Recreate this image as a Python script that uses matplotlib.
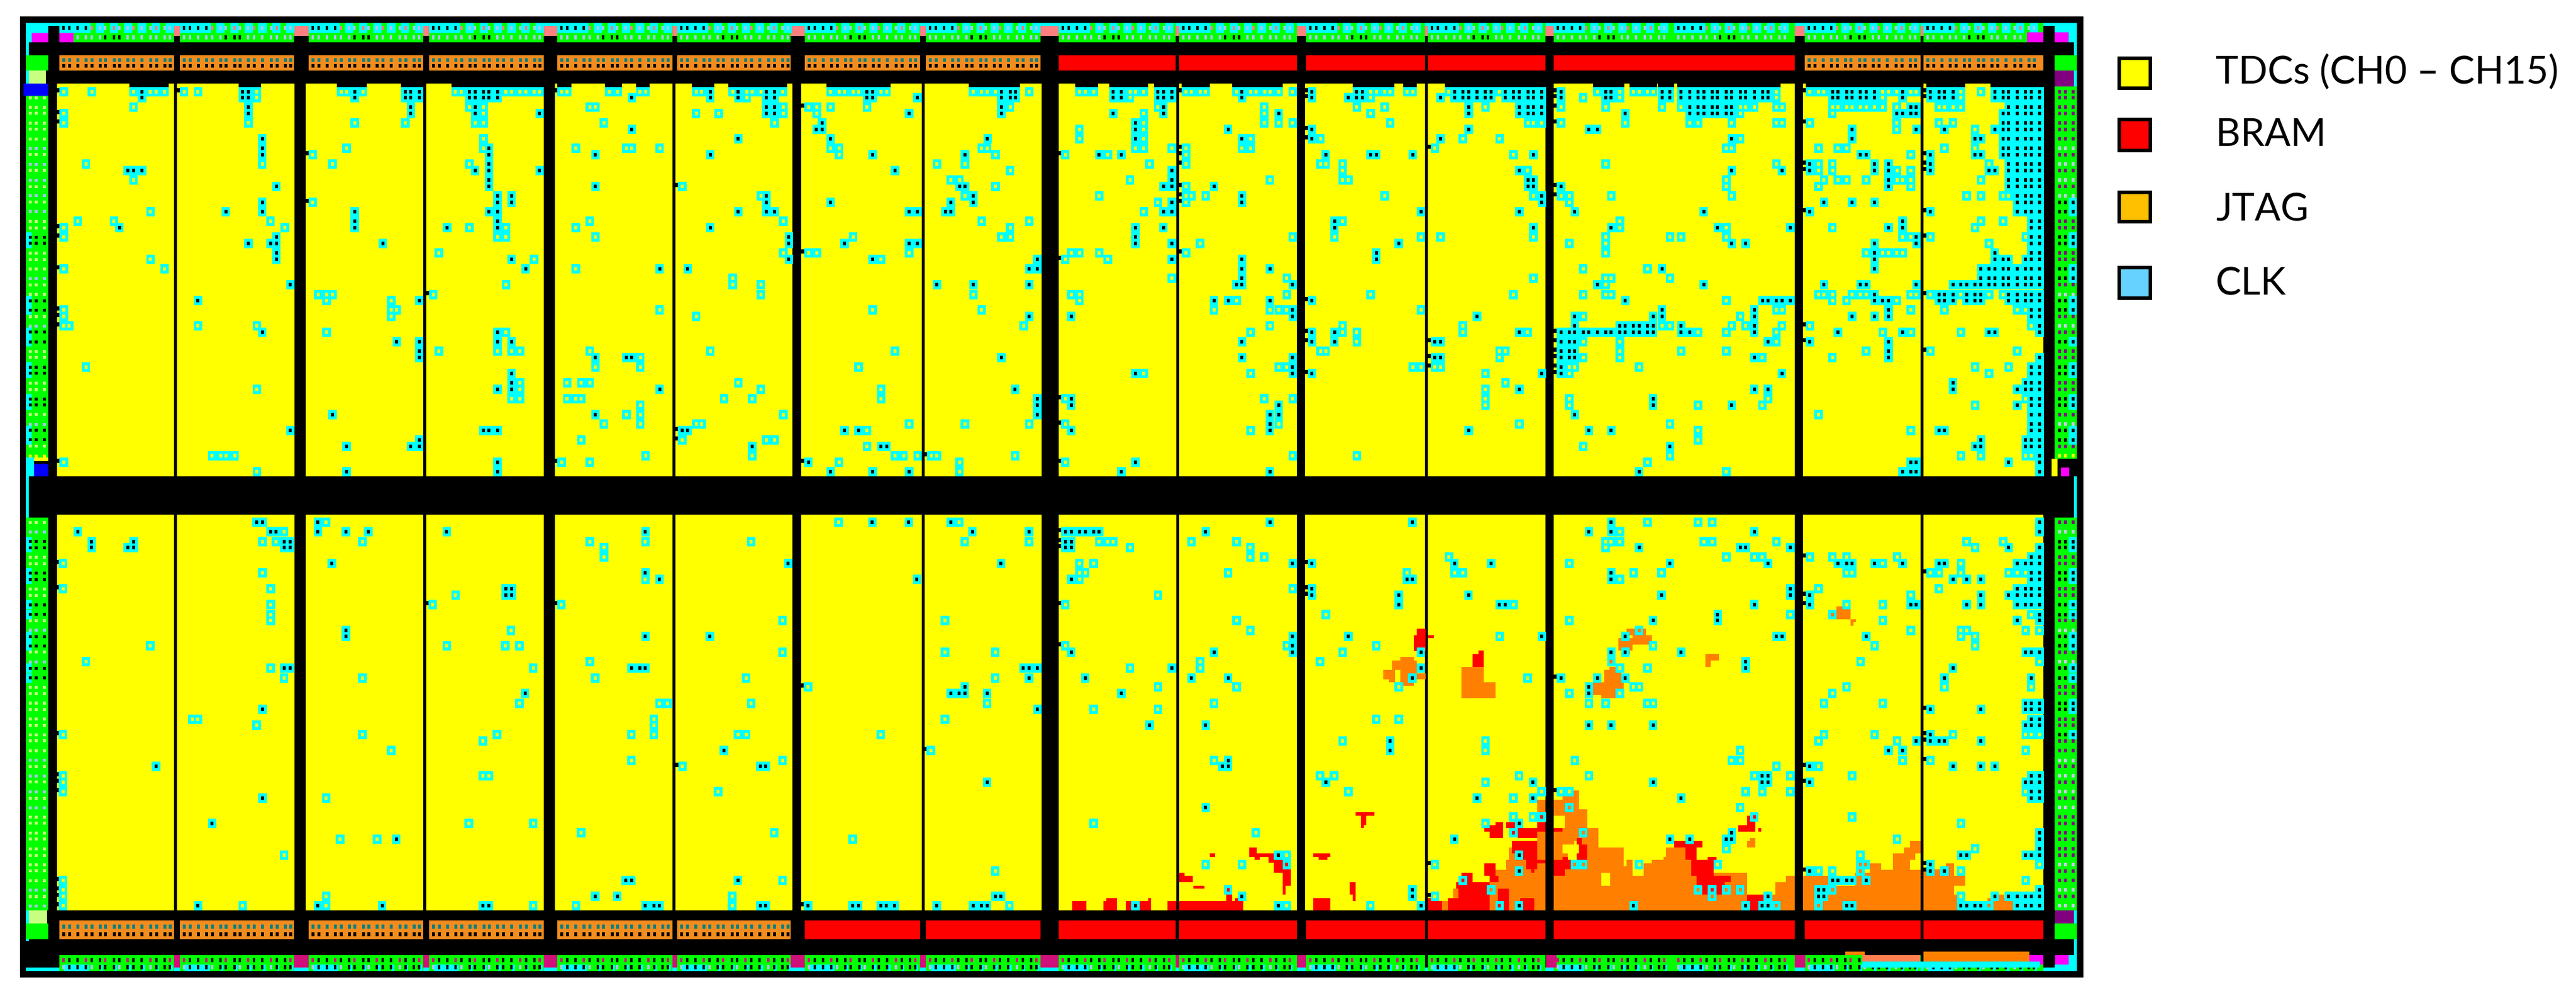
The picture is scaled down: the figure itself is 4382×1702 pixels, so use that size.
#!/usr/bin/env python3
import matplotlib
matplotlib.use("Agg")
import matplotlib.pyplot as plt

W, H = 4382, 1702

# ---------- fabric layout in image pixels ----------
PANELS = [(97, 296), (301, 501), (520, 720), (725, 925), (944, 1144), (1149, 1348),
          (1363, 1568), (1573, 1772), (1801, 2001), (2006, 2206), (2220, 2424),
          (2429, 2629), (2643, 3053), (3067, 3267), (3272, 3476)]
BLOCKS = [(101, 296), (306, 500), (525, 720), (730, 925), (948, 1144), (1152, 1345),
          (1369, 1565), (1575, 1770), (1801, 2000), (2006, 2206), (2222, 2424),
          (2429, 2629), (2643, 2848), (2848, 3053), (3070, 3267), (3272, 3476)]
TOP_BANK_KIND = "oooooooorrrrrroo"
BOT_BANK_KIND = "oooooorrrrrrrrrr"
DOT_OFFS = [7, 17, 31, 45, 55, 69, 78, 93, 102, 116, 126, 140, 155, 165, 179, 188]
CYAN_OFFS = [(0, 53), (62, 76), (86, 100), (110, 124), (133, 148), (157, 171), (181, 195)]

# rows of the fabric, as read in the crops
UPPER_Y = [58, 82, 119, 143, 180, 204, 241, 278, 302, 339, 363, 400, 425, 461, 486, 522,
           559, 584, 621, 645, 682, 707, 743, 780, 805, 842, 866, 903, 927, 964, 988, 1025,
           1062, 1086, 1123, 1147, 1184, 1209, 1246, 1270, 1306, 1343, 1367, 1404, 1429,
           1466]
LOWER_Y = [41, 78, 115, 139, 176, 200, 237, 262, 298, 323, 360, 397, 421, 458, 482, 519,
           543, 580, 605, 642, 678, 703, 740, 764, 801, 825, 862, 886, 923, 960, 984, 1021,
           1045, 1082, 1107, 1143, 1180, 1204, 1241, 1265, 1302, 1327, 1364, 1388, 1425,
           1462, 1486, 1523]
LEFT_BLACK_U = [621, 645, 866, 903, 988, 1025, 1123, 1147, 1246, 1270, 1367, 1404]
LEFT_BLACK_L = [115, 139, 237, 262, 360, 397, 482, 519, 605, 642]
LEFT_BLUE_U = [278, 339, 400, 461, 522, 780, 964, 1343]
LEFT_BLUE_L = [78, 458, 580, 960, 1021, 1082, 1143, 1462, 1523]
LEFT_YELLOW_U = [1466]
RIGHT_BLACK_U = [486, 522, 621, 645, 743, 780, 866, 903, 1025, 1123, 1147, 1246, 1270, 1367, 1404]
RIGHT_PALE_U = [278, 339, 400, 461, 842, 964, 1343]
RIGHT_YELLOW_U = [1466]
RIGHT_BLACK_L = [115, 139, 237, 262, 360, 397, 482, 519, 605, 642, 740, 764, 862]
RIGHT_PALE_L = [78, 458, 580, 960, 1021, 1082, 1143, 1364, 1462, 1523]

# CLK tiles: (crop y, [tiles with black core], [tiles with yellow core]), crop coordinates
CROP_A = [
    (58, [291, 600, 617, 943, 1098, 1115, 1141, 1295, 1312, 1338, 1355, 1381],
     [51, 137, 265, 317, 334, 360, 420, 463, 643, 901, 918, 968, 1252, 1269, 1407, 1424, 1450, 1467, 1493, 1510]),
    (82, [291, 600, 617, 943, 1098, 1115, 1141, 1295, 1312, 1338, 1355, 1381], [643]),
    (119, [617, 1115, 1312], [265, 1295, 1338]),
    (143, [617, 1115, 1312, 1510], [51, 1338]),
    (180, [], [51, 617, 943, 1098, 1312, 1338]),
    (241, [660], [1338]),
    (278, [660, 1355], [918, 1338]),
    (302, [660, 1355], [814]),
    (339, [1355], [119, 660, 875, 1295]),
    (363, [248, 265, 291, 1312, 1355, 1510], []),
    (400, [1355], [265]),
    (425, [703, 1355], []),
    (461, [1381, 1424], []),
    (486, [660, 1381, 1424], [814]),
    (522, [548, 660, 943, 1355, 1381], [317]),
    (559, [943, 1381], [94, 205, 685]),
    (584, [222, 943, 1226, 1381], [51, 729, 1295, 1407]),
    (621, [703], [51, 1381, 1407]),
    (645, [617, 685, 703, 1029], []),
    (682, [703], [1201]),
    (707, [703, 1424], [317, 1493]),
    (743, [1467], [51, 360]),
    (805, [746], [1407]),
    (842, [], [831, 857, 875, 1184]),
    (866, [463, 1141], [857, 1055]),
    (903, [], [51, 1055, 1072]),
    (927, [], [51, 1055]),
    (964, [], [51, 68, 463, 643]),
    (988, [660, 1381], [857, 1407]),
    (1025, [1072, 1141, 1381, 1424], []),
    (1062, [1141], [1201, 1381, 1424, 1450]),
    (1086, [1141], []),
    (1123, [], [119]),
    (1147, [1424], []),
    (1184, [1424], [1450]),
    (1209, [1381, 1424], [643, 1450]),
    (1246, [], [1424, 1450]),
    (1306, [875], []),
    (1367, [746, 1338, 1355, 1381], []),
    (1404, [1141], []),
    (1429, [918, 1115, 1141], []),
    (1466, [], [506, 532, 549, 575]),
    (1490, [1381], [51]),
    (1527, [918, 1381], [643]),
]
CROP_B = [
    (58, [465, 551, 637, 663, 946, 963, 1358, 1384, 1401],
     [10, 27, 156, 182, 250, 267, 422, 439, 534, 577, 594, 620, 688, 834, 860, 877, 903, 920, 989, 1006, 1271, 1297, 1314, 1340, 1443]),
    (82, [225, 465, 551, 637, 663, 946, 963, 1100, 1358, 1384, 1401], [577]),
    (119, [637, 663, 1358], [96, 113, 689, 766, 792, 834, 946, 1384]),
    (143, [637, 663, 1075, 1358], [422, 491, 689, 792]),
    (180, [808], [139, 662]),
    (204, [225, 791, 808], []),
    (241, [551, 834, 1315], []),
    (278, [], [53, 208, 225, 310, 834, 860, 1297, 1314]),
    (302, [113, 465, 963, 1246], [860, 1340]),
    (339, [], [1160, 1246]),
    (363, [1032], [1384]),
    (400, [], [1203, 1229]),
    (425, [113, 1229, 1246], [379, 1340]),
    (461, [637, 1272], [620, 1246]),
    (486, [637, 834, 1203, 1272], []),
    (522, [551, 637, 663, 1075, 1101, 1186, 1203], []),
    (559, [], [96, 689, 1297, 1443]),
    (584, [465], [53, 1384]),
    (621, [706], [113, 903, 1358, 1384]),
    (645, [706, 877, 1075, 1101], []),
    (682, [], [689, 766, 792, 1075]),
    (707, [706, 963, 1468], [989]),
    (743, [310, 396, 1443, 1468], [53]),
    (780, [], [534]),
    (805, [1160, 1272, 1443], [534, 620]),
    (842, [], [620, 1272]),
    (903, [], [310, 963, 1297]),
    (927, [1443], [422]),
    (964, [], [1426]),
    (1062, [], [96, 465, 1032]),
    (1086, [113, 208, 225, 1358], [251]),
    (1123, [], [113, 251, 920]),
    (1184, [], [27, 70, 96, 551]),
    (1209, [310, 1400], [620, 989]),
    (1246, [1468], [27, 53, 70, 508, 594, 989]),
    (1270, [1468], [251]),
    (1306, [113, 1468], [208, 251, 689]),
    (1343, [], [139, 251, 422, 439, 1075, 1246, 1443]),
    (1367, [379, 396, 877, 920], [946]),
    (1404, [], [70, 379, 637, 662]),
    (1429, [594, 989, 1006], [946]),
    (1466, [], [267, 594, 1032, 1058, 1101, 1143, 1160, 1400]),
    (1490, [766], [10, 96, 860, 1229]),
    (1527, [834, 963, 1075], [1229]),
]
CROP_C = [
    (58, [205, 230, 342, 359, 385, 600, 814, 951, 968, 1251, 1277, 1295, 1320, 1346, 1363, 1407, 1432, 1450, 1476, 1493, 1519],
     [101, 119, 145, 256, 273, 299, 428, 445, 471, 488, 583, 626, 643, 669, 686, 712, 755, 994, 1011, 1037, 1054, 1106, 1123, 1234, 1389]),
    (82, [205, 230, 342, 359, 385, 600, 814, 925, 951, 968, 1208, 1251, 1277, 1295, 1320, 1346, 1363, 1407, 1432, 1450, 1476, 1493, 1519], [256, 994]),
    (119, [359, 1295, 1450, 1476, 1493, 1519], [342, 668, 951, 1037, 1346]),
    (143, [205, 359, 712, 1295, 1450, 1476, 1493, 1519], [299, 668, 994]),
    (180, [273], [299, 668, 712, 755, 1054, 1476, 1493, 1519]),
    (204, [273, 557, 814, 1295], [101, 299]),
    (241, [273, 600, 814, 1208], [101, 299, 626, 840, 1277, 1389]),
    (278, [], [273, 299, 385, 428, 600, 626, 1191]),
    (302, [162, 230, 856, 994, 1011, 1123, 1493], [58, 188, 428, 1432]),
    (339, [], [316, 428, 840, 856, 908]),
    (363, [385, 1450], [908, 1475]),
    (400, [385, 1476, 1493], [256, 685, 908, 925]),
    (425, [359, 385, 514, 1476, 1493], [428]),
    (461, [600, 1519], [162, 428, 445, 488, 1037, 1493]),
    (486, [385, 600, 1519], [342, 428]),
    (522, [359, 385, 1148, 1450], [299]),
    (559, [883], [908]),
    (584, [273, 359, 883, 1493], []),
    (621, [273], [755, 883, 1148, 1208, 1493]),
    (645, [273, 385, 1080], [471]),
    (682, [1011], [76, 101, 162, 428]),
    (707, [385, 600, 1011], [58, 188]),
    (743, [600, 685], []),
    (780, [600], [385, 737, 1493]),
    (805, [583, 600, 755], []),
    (842, [], [76, 101, 737, 994, 1432]),
    (866, [514, 557, 685, 814], [101, 583]),
    (903, [755], [514, 685, 712, 737, 1148]),
    (927, [76, 755, 1320], []),
    (964, [], [685, 908, 1277]),
    (988, [814, 883, 1450], [626, 908, 951, 1277, 1475]),
    (1025, [600, 814, 883, 1191, 1208], [951]),
    (1062, [], [840, 856, 1389, 1407]),
    (1086, [600, 755, 1191, 1208], [1389]),
    (1123, [755], [712, 737, 1123, 1148, 1191, 1208]),
    (1147, [273, 755, 814, 1519], [299, 626, 1346]),
    (1184, [], [1407]),
    (1209, [1450], [1346]),
    (1246, [76], [58, 668, 755, 1346]),
    (1270, [76, 712], [1346]),
    (1306, [685, 712], []),
    (1343, [685], [58, 712, 1450]),
    (1367, [76, 685, 1295], [626]),
    (1466, [], [755, 951]),
    (1490, [273], [58]),
    (1527, [230, 685], []),
]
CROP_D = [
    (58, [28, 165, 182, 337, 362, 396, 422, 448, 465, 491, 508, 534, 551, 577, 594, 620, 646, 663, 860, 877, 903, 920, 946, 963, 989, 1075, 1160, 1186, 1203, 1229, 1357, 1383, 1400, 1426, 1452, 1469, 1495],
     [139, 208, 250, 267, 293, 310, 688, 791, 817, 834, 1014, 1031, 1057, 1100, 1117, 1254, 1315]),
    (82, [28, 165, 182, 337, 362, 396, 422, 448, 465, 491, 508, 534, 551, 577, 594, 620, 646, 663, 860, 877, 903, 920, 946, 963, 989, 1075, 1160, 1186, 1203, 1229, 1357, 1383, 1400, 1426, 1452, 1469, 1495],
     [96, 208, 688, 1014, 1254]),
    (119, [422, 448, 465, 491, 508, 534, 551, 1100, 1117, 1400, 1426, 1452, 1469, 1495],
     [28, 165, 337, 396, 577, 594, 620, 688, 705, 860, 877, 903, 920, 946, 963, 989, 1014, 1057, 1186, 1203, 1229, 1254]),
    (143, [225, 422, 448, 465, 491, 508, 534, 551, 1057, 1075, 1100, 1117, 1383, 1400, 1426, 1452, 1469, 1495], [577, 860]),
    (180, [1383, 1400, 1426, 1452, 1469, 1495], [28, 225, 422, 448, 551, 688, 705, 791, 1057, 1186, 1229]),
    (204, [113, 139, 920, 1117, 1203, 1357, 1383, 1400, 1426, 1452, 1469, 1495], [1057, 1297]),
    (241, [551, 920, 1297, 1315, 1383, 1400, 1426, 1452, 1469, 1495], [577]),
    (278, [1383, 1400, 1426, 1452, 1469, 1495], [534, 551, 817, 877, 903, 1203, 1297]),
    (302, [946, 963, 1160, 1297, 1315, 1383, 1400, 1426, 1452, 1469, 1495], [1100]),
    (339, [791, 989, 1032, 1160, 1400, 1426, 1452, 1469, 1495], [165, 688, 817, 860, 1340]),
    (363, [551, 705, 791, 989, 1032, 1160, 1340, 1357, 1400, 1426, 1452, 1469, 1495], [817, 860, 1058, 1100]),
    (400, [1032, 1400, 1426, 1452, 1469, 1495], [534, 834, 877, 903, 963, 1058, 1075, 1100, 1315]),
    (425, [28, 1032, 1400, 1426, 1452, 1469, 1495], [534, 817, 1100]),
    (461, [1426, 1452, 1469, 1495], [28, 53, 182, 551, 1271, 1315, 1383, 1400]),
    (486, [834, 920, 989, 1426, 1452, 1469, 1495], [53]),
    (522, [70, 465, 791, 1160, 1426, 1452, 1469, 1495], []),
    (559, [1075, 1469, 1495], [208, 1315, 1383]),
    (584, [182, 508, 731, 1032, 1075, 1469, 1495], [208, 534, 860, 1297]),
    (621, [1117, 1469, 1495], [165, 362, 396, 534, 1075, 1100, 1160, 1452]),
    (645, [551, 594, 989, 1117, 1469, 1495], [53, 165, 1340]),
    (682, [989, 1357, 1469, 1495], [165, 963, 1014, 1031, 1057, 1075]),
    (707, [989, 1357, 1383, 1400, 1452, 1469, 1495], []),
    (743, [337, 989, 1315, 1340, 1357, 1383, 1400, 1426, 1452, 1469, 1495], [96, 293]),
    (780, [1315, 1340, 1357, 1383, 1400, 1426, 1452, 1469, 1495], [165, 182, 362]),
    (805, [139, 465, 834, 946, 963, 1117, 1229, 1254, 1271, 1297, 1315, 1340, 1357, 1383, 1400, 1426, 1452, 1469, 1495], [165]),
    (842, [989, 1186, 1203, 1229, 1271, 1297, 1315, 1400, 1426, 1452, 1469, 1495], [96, 165, 182, 817, 834, 860, 920, 946, 963, 1100, 1117, 1160, 1254, 1340, 1383]),
    (866, [225, 646, 663, 688, 705, 731, 989, 1014, 1032, 1186, 1203, 1229, 1271, 1297, 1315, 1400, 1426, 1452, 1469, 1495], [534, 860, 903, 1057]),
    (903, [337, 620, 1032, 1469, 1495], [688, 705, 1100, 1203, 1426, 1452]),
    (927, [70, 310, 337, 620, 920, 989, 1032, 1469, 1495], [96, 577]),
    (964, [70, 208, 225, 250, 267, 293, 310, 396, 620, 1495], [337, 362, 551, 594, 705, 791, 1469]),
    (988, [28, 53, 70, 96, 113, 139, 165, 182, 208, 225, 250, 267, 293, 310, 396, 422, 620, 877, 1075, 1340, 1357, 1495], [448, 534, 688, 1014, 1100, 1254]),
    (1025, [28, 53, 70, 662, 791, 1032], [96, 208, 688]),
    (1062, [28, 53, 70, 1032], [208, 396, 534, 963, 1160, 1426]),
    (1086, [28, 53, 70, 620, 1032, 1495], [96, 208, 645, 860]),
    (1123, [28, 1469, 1495], [53, 70, 267, 1297, 1400]),
    (1147, [28, 705, 1469, 1495], [53, 1340]),
    (1184, [1229, 1452, 1469, 1495], []),
    (1209, [620, 662, 1229, 1426, 1452, 1469, 1495], []),
    (1246, [310, 1469, 1495], [53, 662, 1452]),
    (1270, [310, 551, 1426, 1469, 1495], [53, 448, 645, 1297]),
    (1306, [70, 1469, 1495], [817]),
    (1343, [1469, 1495], [362]),
    (1367, [113, 182, 1186, 1203, 1469, 1495], [448, 1100]),
    (1404, [1315, 1452, 1469, 1495], [448]),
    (1429, [362, 1297, 1315, 1452, 1469, 1495], [96]),
    (1466, [1495], [362, 1254, 1315, 1452, 1469]),
    (1490, [1100, 1117, 1400, 1495], [293]),
    (1527, [267, 1075, 1100, 1117, 1495], [534]),
]
CROP_E = [
    (41, [329, 338, 425, 1295, 1352, 1418], [438, 1242, 1431]),
    (78, [48, 351, 359, 425, 469, 504, 627, 939, 1452, 1541], [372]),
    (115, [70, 136, 372, 381], [338, 359, 495, 852, 939, 1105, 1440, 1541]),
    (139, [70, 127, 136, 372, 381], [874]),
    (176, [], [874]),
    (200, [447, 1163, 1497], [25]),
    (237, [939], [338]),
    (262, [961, 1365], [939]),
    (298, [720, 729], [25, 351]),
    (323, [720, 729], [641]),
    (360, [], [351, 605, 807]),
    (397, [], [351]),
    (421, [], [351, 1154, 1409]),
    (458, [469], [728]),
    (482, [469, 939, 1040], []),
    (519, [], [162, 627, 719, 741]),
    (543, [], [1154, 1409, 1488]),
    (580, [], [61, 852]),
    (605, [372, 381, 917, 930, 939, 1532, 1541, 1554], [351, 763]),
    (642, [1541], [372, 495, 860, 1097, 1488]),
    (678, [1440], [1194]),
    (703, [750, 1418, 1431, 1440, 1475], []),
    (740, [], [741, 961, 974, 1105, 1475]),
    (764, [338, 1554], []),
    (801, [], [228, 237, 952, 1409]),
    (825, [], [329, 952]),
    (862, [], [25, 495, 706, 917, 952, 1084, 1097, 1308]),
    (886, [], [684]),
    (923, [1062], [540, 1387]),
    (960, [], [917, 1154]),
    (984, [171, 1119, 1128], [997]),
    (1021, [], [25, 684, 693]),
    (1045, [1475], [25]),
    (1082, [], [25, 1053]),
    (1107, [338], [438]),
    (1204, [259], [662, 763]),
    (1241, [], [838, 1141]),
    (1265, [548], [460, 518, 1264]),
    (1327, [], [372]),
    (1388, [], [1488]),
    (1425, [908, 917, 1084], [25, 1154]),
    (1462, [], [25]),
    (1486, [860, 895, 1488, 1497], [25, 438, 1075]),
    (1523, [237, 425, 526, 684, 693, 939, 952, 961, 1119, 1128, 1194, 1264, 1273, 1308, 1317, 1330, 1396, 1453, 1466, 1475],
     [25, 307, 438, 763, 830, 1075, 1510]),
]
CROP_F = [
    (41, [685, 1122], []),
    (78, [58, 76, 101, 119, 145, 162, 488], []),
    (115, [58, 76], [162, 188, 205, 445, 583]),
    (139, [58, 76], [256, 625]),
    (176, [], [625, 668, 1234]),
    (200, [755, 814, 1251, 1363], [101, 145]),
    (237, [], [101, 119, 557, 1105, 1251, 1277]),
    (262, [76, 1105, 1122], [101]),
    (298, [814], [755]),
    (323, [814, 1080, 1294], [342]),
    (360, [1080, 1389, 1406], [58, 1432]),
    (397, [], [857]),
    (421, [], [583]),
    (458, [], [625]),
    (482, [755, 925, 1519], [1389]),
    (519, [755], [58, 737, 1011]),
    (543, [76, 514, 755, 1148], [908]),
    (580, [], [471, 839]),
    (605, [385, 1148], [256, 471]),
    (642, [119, 445, 557, 1122], [1475]),
    (678, [], [342, 583, 1080]),
    (703, [230], []),
    (740, [], [514]),
    (764, [], [145, 342]),
    (801, [], [1011, 1080]),
    (825, [316, 488], []),
    (886, [1054], [908, 1346]),
    (923, [1054], [1346]),
    (960, [557], [514]),
    (984, [540, 557], []),
    (1021, [], [839, 882, 1449]),
    (1045, [857, 1492], [1346]),
    (1082, [], [925, 1518]),
    (1107, [1320, 1492], [1432]),
    (1143, [488], []),
    (1180, [], [1432, 1492, 1518]),
    (1204, [1449], [145, 1346]),
    (1241, [], [642, 1432]),
    (1265, [1251], []),
    (1327, [711, 1449], [737]),
    (1364, [], [488, 600, 1191, 737]),
    (1388, [1449], []),
    (1425, [], [1277]),
    (1462, [1122], [557, 1363]),
    (1486, [600, 1122], [1191]),
    (1523, [273, 711, 1148, 1449], [737, 993, 1389]),
]
CROP_G = [
    (41, [182, 1495], [293, 448, 491]),
    (78, [113, 182, 620, 1495], [208]),
    (115, [], [165, 182, 208, 465, 491, 688, 1271, 1383]),
    (139, [267, 577, 594, 731, 1400, 1495], [165, 1297]),
    (176, [1469, 1495], [534, 620, 645, 791, 860, 903, 1058]),
    (200, [362, 662, 877, 903, 920, 989, 1075, 1186, 1203, 1426, 1452, 1469, 1495], [53, 1014, 1254]),
    (237, [182, 1469, 1495], [250, 336, 903, 920, 1160, 1186, 1254, 1400, 1426, 1452]),
    (262, [182, 1229, 1271, 1315, 1469, 1495], [208]),
    (298, [731, 1426, 1452, 1469, 1495], [817, 1186]),
    (323, [336, 731, 791, 1315, 1400, 1426, 1452, 1469, 1495], [1100]),
    (360, [620, 791, 1100, 1117, 1271, 1315, 1426, 1452, 1469, 1495], [903, 1014]),
    (397, [508, 1495], [731, 860, 1469]),
    (421, [310, 508, 1426, 1495], [53, 1014]),
    (458, [], [267, 1100, 1254, 1271, 1452, 1495]),
    (482, [225, 688, 705, 963], [1254, 1297]),
    (519, [], [310, 989, 1297]),
    (543, [182, 225, 396, 1452, 1469, 1495], []),
    (580, [594], [182, 946, 1495]),
    (605, [594, 1229], [208, 293]),
    (642, [28, 139, 225, 1203, 1469], []),
    (678, [113], [250, 267, 903, 1203, 1469]),
    (703, [113], [53, 208, 860]),
    (740, [1452, 1469, 1495], [113, 165, 293, 310, 834, 1014]),
    (764, [1160, 1315, 1452, 1469, 1495], []),
    (801, [1469, 1495], []),
    (825, [113, 182, 310, 1452, 1469, 1495], []),
    (862, [1160], [834, 989, 1229, 1452, 1469, 1495]),
    (886, [1117, 1160, 1186, 1203, 1315], [817, 1058]),
    (923, [1032, 1075], [577, 1452]),
    (960, [], [70, 551, 577, 1075, 1160]),
    (984, [791, 1229, 1315, 1357], [688, 817]),
    (1021, [645, 662, 1469, 1495], [113, 620, 731, 920]),
    (1045, [310, 645, 662, 791, 1452, 1469, 1495], []),
    (1082, [1469, 1495], [28, 53, 594, 645, 731, 1452]),
    (1107, [396, 1469, 1495], []),
    (1143, [], [53, 577]),
    (1180, [], [620, 920]),
    (1204, [], [1254]),
    (1241, [551, 1495], [96]),
    (1265, [362, 422, 534, 551, 1495], [1058]),
    (1302, [1495], [534, 1297]),
    (1327, [1254, 1271, 1452, 1469, 1495], [945]),
    (1364, [1160], [70, 96, 267, 945, 962, 508, 1495]),
    (1388, [791, 1160, 1203], [817, 860, 945, 1254]),
    (1425, [860, 877, 903, 920, 963], [1452]),
    (1462, [817, 834, 1495], [447, 491, 534, 577, 860]),
    (1486, [662, 817, 834, 1357, 1400, 1426, 1452, 1469, 1495], [491, 1254]),
    (1523, [250, 594, 645, 662, 903, 920, 1254, 1271, 1297, 1315, 1426, 1452, 1469, 1495], [688, 817, 1340]),
]
# cores that show the cell below them, (crop x, crop y)
F_RED_CORES = [(1518, 1180), (1432, 1241), (737, 1364), (1277, 1425), (557, 1462), (1389, 1523)]
F_ORANGE_CORES = [(1363, 1462)]
G_RED_CORES = [(620, 1180), (491, 1462)]
G_ORANGE_CORES = [(860, 397), (267, 458), (182, 580), (53, 1143), (96, 1241), (70, 1364), (96, 1364),
                  (945, 1364), (962, 1364), (945, 1388), (447, 1462), (534, 1462), (577, 1462),
                  (860, 1462), (491, 1486), (688, 1523), (817, 1523), (1340, 1523)]

# JTAG and BRAM cells: (x0, x1, y0, y1) in crop coordinates
F_JTAG = [(1059, 1136, 575, 611), (1085, 1127, 562, 575), (1033, 1068, 611, 648), (1050, 1068, 648, 660),
          (1085, 1127, 611, 672), (1110, 1136, 611, 625), (1136, 1162, 625, 648),
          (1273, 1341, 599, 721), (1341, 1376, 660, 721), (1247, 1264, 1456, 1493), (1213, 1230, 1505, 1541),
          (1359, 1530, 1384, 1541), (1410, 1530, 1345, 1384), (1419, 1445, 1297, 1345),
          (1505, 1530, 1113, 1162), (1505, 1530, 1235, 1345)]
F_BRAM = [(80, 123, 1505, 1541), (175, 217, 1505, 1541), (184, 217, 1493, 1505), (243, 320, 1505, 1541),
          (312, 320, 1493, 1505), (372, 398, 1505, 1541),
          (407, 603, 1505, 1541), (407, 424, 1395, 1431), (424, 449, 1407, 1431), (450, 484, 1444, 1456),
          (501, 518, 1321, 1333), (552, 570, 1480, 1505), (578, 603, 1493, 1505), (621, 646, 1297, 1333),
          (638, 655, 1333, 1345), (646, 698, 1321, 1333), (681, 698, 1333, 1357), (698, 724, 1345, 1395),
          (724, 750, 1383, 1444), (724, 733, 1444, 1480), (725, 750, 1357, 1383),
          (818, 870, 1493, 1541), (818, 870, 1321, 1333), (835, 861, 1333, 1345), (930, 947, 1432, 1480),
          (938, 947, 1480, 1505), (947, 1006, 1162, 1174), (964, 981, 1174, 1211), (964, 973, 1211, 1223),
          (1127, 1162, 476, 539), (1135, 1162, 452, 476), (1170, 1188, 476, 488),
          (1307, 1341, 550, 599), (1325, 1341, 537, 550),
          (1170, 1213, 1505, 1541), (1170, 1179, 1493, 1505), (1230, 1359, 1493, 1541), (1264, 1359, 1432, 1493),
          (1256, 1359, 1432, 1456), (1273, 1307, 1395, 1432), (1342, 1376, 1358, 1407), (1359, 1385, 1407, 1432),
          (1384, 1419, 1456, 1541), (1453, 1496, 1493, 1541),
          (1359, 1401, 1211, 1260), (1376, 1401, 1199, 1211), (1410, 1436, 1199, 1223), (1342, 1360, 1223, 1235),
          (1445, 1505, 1223, 1260), (1428, 1505, 1272, 1321), (1462, 1505, 1321, 1345), (1471, 1505, 1345, 1382),
          (1487, 1496, 1382, 1395), (1505, 1530, 1199, 1235), (1505, 1530, 1345, 1358)]
G_JTAG = [(6, 40, 1113, 1541), (32, 83, 1077, 1541), (83, 109, 1150, 1541), (109, 143, 1223, 1541),
          (143, 220, 1297, 1541), (220, 229, 1370, 1541), (229, 247, 1345, 1541), (247, 281, 1407, 1541),
          (281, 306, 1358, 1541), (306, 342, 1345, 1541), (342, 350, 1333, 1541), (350, 427, 1297, 1541),
          (427, 598, 1395, 1541), (598, 684, 1480, 1541), (684, 744, 1432, 1541), (718, 744, 1407, 1541),
          (229, 289, 452, 476), (246, 306, 476, 513), (204, 246, 489, 537), (212, 240, 513, 550),
          (160, 212, 611, 660), (177, 212, 599, 623), (125, 220, 660, 709), (152, 195, 709, 721),
          (470, 512, 550, 575), (470, 487, 575, 599), (607, 624, 1260, 1272), (598, 624, 1272, 1297),
          (770, 850, 1407, 1541), (850, 930, 1444, 1541), (930, 975, 1395, 1541), (975, 1010, 1358, 1541),
          (1010, 1045, 1383, 1541), (1045, 1097, 1321, 1541), (1097, 1130, 1383, 1541), (1097, 1130, 1272, 1321),
          (1080, 1113, 1297, 1345), (872, 916, 366, 415), (916, 932, 415, 428), (916, 925, 428, 440),
          (1139, 1267, 1407, 1444), (1139, 1233, 1444, 1541), (1139, 1208, 1382, 1407), (1208, 1233, 1358, 1407),
          (1233, 1245, 1480, 1541), (1336, 1414, 1493, 1541), (1357, 1386, 1480, 1493)]
G_HOLES = [(6, 40, 1174, 1223), (32, 83, 1285, 1320), (49, 75, 1320, 1345), (68, 83, 1273, 1285),
           (152, 178, 1395, 1444), (247, 281, 1383, 1407)]
G_BRAM = [(6, 32, 1223, 1235), (75, 92, 1260, 1285), (83, 109, 1285, 1345), (75, 109, 1320, 1345),
          (32, 49, 1333, 1345), (6, 58, 1345, 1382), (6, 40, 1382, 1407), (375, 461, 1273, 1297),
          (409, 444, 1297, 1345), (427, 495, 1345, 1407), (478, 504, 1333, 1345), (444, 547, 1407, 1432),
          (444, 530, 1432, 1444), (461, 521, 1444, 1480), (598, 650, 1480, 1505), (607, 632, 1505, 1541),
          (572, 624, 1211, 1235), (598, 624, 1174, 1211), (632, 641, 1223, 1235)]

LEGEND_LABELS = ["TDCs (CH0 – CH15)", "BRAM", "JTAG", "CLK"]
LEGEND_COLORS = ["#FFFF00", "#FF0000", "#FFC000", "#66D2FF"]
LEGEND_BOXES = [(96, 153), (200, 259), (324, 380), (452, 510)]
LEGEND_TEXT_Y = [122, 230, 357, 483]

CYAN = "#00FFFF"
GREEN = "#00FF00"
YELLOW = "#FFFF00"
RED = "#FF0000"
JTAG = "#FF8000"
BANK = "#F28C1E"
PALE_GREEN = "#C8FF80"
PALE_BLUE = "#A8C4F0"
PURPLE = "#800080"
MAGENTA = "#FF00FF"
SALMON = "#FF8080"
DEEP_PINK = "#D0107A"

plt.rcParams["font.family"] = ["Lato", "DejaVu Sans"]
fig = plt.figure(figsize=(W / 100, H / 100), dpi=100)
ax = fig.add_axes([0, 0, 1, 1])
ax.set_xlim(0, W)
ax.set_ylim(H, 0)
ax.axis("off")


def boxes(rects, color, z=2):
    """rects are (x0, x1, y0, y1) in image pixels"""
    if not rects:
        return
    ax.bar([r[0] for r in rects], [r[3] - r[2] for r in rects], [r[1] - r[0] for r in rects],
           bottom=[r[2] for r in rects], align="edge", color=color, linewidth=0,
           antialiased=False, zorder=z)


def to_px(x, y, ox, oy, sx):
    return ox + x / sx, oy + y / 2.272


def cell(x, y, ox, oy, sx, w, h):
    px, py = to_px(x, y, ox, oy, sx)
    return (px - w / 2, px + w / 2, py - h / 2, py + h / 2)


def crop_rects(items, ox, oy=870):
    out = []
    for x0, x1, y0, y1 in items:
        a, b = to_px(x0, y0, ox, oy, 1.802)
        c, d = to_px(x1, y1, ox, oy, 1.802)
        out.append((a, c, b, d))
    return out


# frame and background
boxes([(34, 3544, 28, 1662)], "black", 1)
boxes([(44, 3533, 39, 44), (44, 3533, 1645, 1651), (44, 49, 44, 142), (44, 49, 810, 880),
       (3528, 3533, 72, 147), (3528, 3533, 810, 880), (3528, 3533, 1548, 1651), (44, 49, 1548, 1600)], CYAN)

# yellow fabric
boxes([(a, b, 142, 810) for a, b in PANELS] + [(a, b, 875, 1548) for a, b in PANELS], YELLOW)

# placed JTAG and BRAM logic in the lower half
boxes(crop_rects(F_JTAG, 1780), JTAG, 3)
boxes(crop_rects(G_JTAG, 2640), JTAG, 3)
boxes(crop_rects(G_HOLES, 2640), YELLOW, 3.2)
boxes(crop_rects(F_BRAM, 1780), RED, 3.5)
boxes(crop_rects(G_BRAM, 2640), RED, 3.5)

# BRAM/bank rows above and below the fabric
for (a, b), k in zip(BLOCKS, TOP_BANK_KIND):
    boxes([(a, b, 94, 120)], BANK if k == "o" else RED)
    if k == "o":
        boxes([(a + d - 2.5, a + d + 2.5, 99, 105) for d in DOT_OFFS], "#008080", 3)
        boxes([(a + d - 2.5, a + d + 2.5, 109, 115) for d in DOT_OFFS], "black", 3)
for (a, b), k in zip(BLOCKS, BOT_BANK_KIND):
    boxes([(a, b, 1565, 1597)], BANK if k == "o" else RED)
    if k == "o":
        boxes([(a + d - 2.5, a + d + 2.5, 1572, 1579) for d in DOT_OFFS], "#008080", 3)
        boxes([(a + d - 2.5, a + d + 2.5, 1585, 1592) for d in DOT_OFFS], "black", 3)

# top and bottom I/O rows
for a, b in BLOCKS:
    boxes([(a, b, 39, 72), (a, b, 1624, 1651)], GREEN)
    boxes([(a + c0, a + c1, 39, 56) for c0, c1 in CYAN_OFFS], CYAN, 2.2)
    boxes([(a + c0 + 8, a + c1 - 2, 1640, 1651) for c0, c1 in CYAN_OFFS], CYAN, 2.2)
    for i, d in enumerate(DOT_OFFS):
        top = "black" if i < 4 else (SALMON if i % 3 == 1 else PALE_BLUE)
        mid = "black" if 5 < i < 9 else PALE_BLUE
        low = "black" if i % 3 else DEEP_PINK
        boxes([(a + d - 2, a + d + 2, 44, 51)], top, 3)
        boxes([(a + d - 2, a + d + 2, 60, 67)], mid, 3)
        boxes([(a + d - 2, a + d + 2, 1629, 1636)], low, 3)
        boxes([(a + d - 2, a + d + 2, 1641, 1648)], "black" if i % 4 else PALE_BLUE, 3)
gaps = [(b0[1], b1[0]) for b0, b1 in zip(BLOCKS[:-1], BLOCKS[1:]) if b1[0] - b0[1] > 0]
boxes([(a, b, 44, 61) for a, b in gaps], SALMON, 2.1)
boxes([(2630, 2648, 1624, 1645), (3053, 3071, 1624, 1645)] +
      [(a, b, 1624, 1645) for a, b in gaps[:10]], DEEP_PINK, 2.1)

# left edge column
boxes([(44, 82, 163, 778), (44, 82, 880, 1548), (44, 82, 94, 120), (44, 82, 1570, 1597)], GREEN)
boxes([(49, 78, 120, 142), (49, 80, 1548, 1570)], PALE_GREEN)
boxes([(40, 82, 142, 163), (58, 82, 789, 810)], "#0000FF", 2.5)
boxes([(44, 58, 778, 810)], CYAN, 2.5)
boxes([(58, 82, 778, 784)], YELLOW, 2.5)
boxes([(44, 82, 39, 56), (44, 54, 56, 72)], CYAN)
boxes([(54, 82, 56, 72), (101, 125, 56, 72), (3448, 3476, 55, 72), (3495, 3519, 55, 72),
       (3449, 3476, 1624, 1640), (3496, 3519, 1624, 1640)], MAGENTA, 4)
boxes([(3495, 3533, 39, 55), (3519, 3533, 55, 72), (3495, 3533, 1640, 1651), (3519, 3533, 1624, 1640)], CYAN)
boxes([(3168, 3266, 1624, 1635)], "#FF7F50", 4)
boxes([(3139, 3172, 1618, 1624), (3272, 3452, 1618, 1635)], JTAG, 4)
boxes([(3168, 3470, 1635, 1645)], CYAN, 4)

for crop_y, black, blue, yellow, oy in [(UPPER_Y[1:], LEFT_BLACK_U, LEFT_BLUE_U, LEFT_YELLOW_U, 130),
                                        (LOWER_Y, LEFT_BLACK_L, LEFT_BLUE_L, [], 870)]:
    for yz in crop_y:
        y = oy + yz / 2.272
        if yz in black:
            boxes([(44, 54, y - 8, y + 8)], CYAN, 2.5)
            color = "black"
        elif yz in yellow:
            color = YELLOW
        else:
            color = PALE_BLUE if yz in blue else PALE_GREEN
        boxes([(x - 2.5, x + 2.5, y - 2.5, y + 2.5) for x in (51, 61, 75)], color, 3)

# right edge column
boxes([(3495, 3533, 147, 780), (3495, 3533, 880, 1548), (3495, 3533, 94, 120), (3495, 3533, 1570, 1597)], GREEN)
boxes([(3495, 3528, 120, 147), (3496, 3528, 1548, 1570)], PURPLE)
boxes([(3490, 3500, 780, 810)], YELLOW, 2.2)
boxes([(3506, 3520, 795, 810)], MAGENTA, 2.2)
for crop_y, black, pale, yellow, oy in [(UPPER_Y, RIGHT_BLACK_U, RIGHT_PALE_U, RIGHT_YELLOW_U, 130),
                                        (LOWER_Y, RIGHT_BLACK_L, RIGHT_PALE_L, [], 870)]:
    for yz in crop_y:
        y = oy + yz / 2.272
        if yz in black:
            boxes([(3519, 3533, y - 8, y + 8)], CYAN, 2.5)
            color = "black"
        elif yz in yellow:
            color = YELLOW
        else:
            color = "#C8C8E8" if yz in pale else PURPLE
        boxes([(x - 2.5, x + 2.5, y - 3, y + 3) for x in (3503, 3513, 3526)], color, 3)

# CLK tiles
tiles, dark_cores, light_cores = [], [], []
for rows, ox, oy, sx in [(CROP_A, 80, 130, 1.802), (CROP_B, 950, 130, 1.802), (CROP_C, 1780, 130, 1.802),
                         (CROP_D, 2640, 130, 1.802), (CROP_E, 80, 870, 0.9224), (CROP_F, 1780, 870, 1.802),
                         (CROP_G, 2640, 870, 1.802)]:
    for yz, dark, light in rows:
        for xz in dark:
            tiles.append(cell(xz, yz, ox, oy, sx, 14.4, 16))
            dark_cores.append(cell(xz, yz, ox, oy, sx, 5, 6))
        for xz in light:
            tiles.append(cell(xz, yz, ox, oy, sx, 14.4, 16))
            light_cores.append(cell(xz, yz, ox, oy, sx, 5, 6))
boxes(tiles, CYAN, 4)
boxes(dark_cores, "black", 5)
boxes(light_cores, YELLOW, 5)
boxes([cell(x, y, 1780, 870, 1.802, 5, 6) for x, y in F_RED_CORES] +
      [cell(x, y, 2640, 870, 1.802, 5, 6) for x, y in G_RED_CORES], RED, 6)
boxes([cell(x, y, 1780, 870, 1.802, 5, 6) for x, y in F_ORANGE_CORES] +
      [cell(x, y, 2640, 870, 1.802, 5, 6) for x, y in G_ORANGE_CORES], JTAG, 6)

# black notches where a tile sits against the top or left edge of a panel
notches = []
for t in tiles:
    for a, b in PANELS:
        if a <= t[0] < a + 8 and (t[2] < 810 or t[2] > 875):
            notches.append((a, t[0], t[2] + 2, t[2] + 9))
        if a <= t[0] < b and t[2] < 150:
            neighbour = any(o is not t and abs(o[0] - t[0]) < 17 and o[2] == t[2] for o in tiles)
            if neighbour:
                notches.append((t[0], t[1], 142, t[2]))
boxes(notches, "black", 3.8)

# legend
for label, color, (y0, y1), ty in zip(LEGEND_LABELS, LEGEND_COLORS, LEGEND_BOXES, LEGEND_TEXT_Y):
    boxes([(3602, 3661, y0, y1)], "black", 2)
    boxes([(3608, 3655, y0 + 6, y1 - 6)], color, 3)
    ax.text(3769, ty, label, fontsize=47, va="center", ha="left", color="black")

fig.savefig("out.png", dpi=100)
